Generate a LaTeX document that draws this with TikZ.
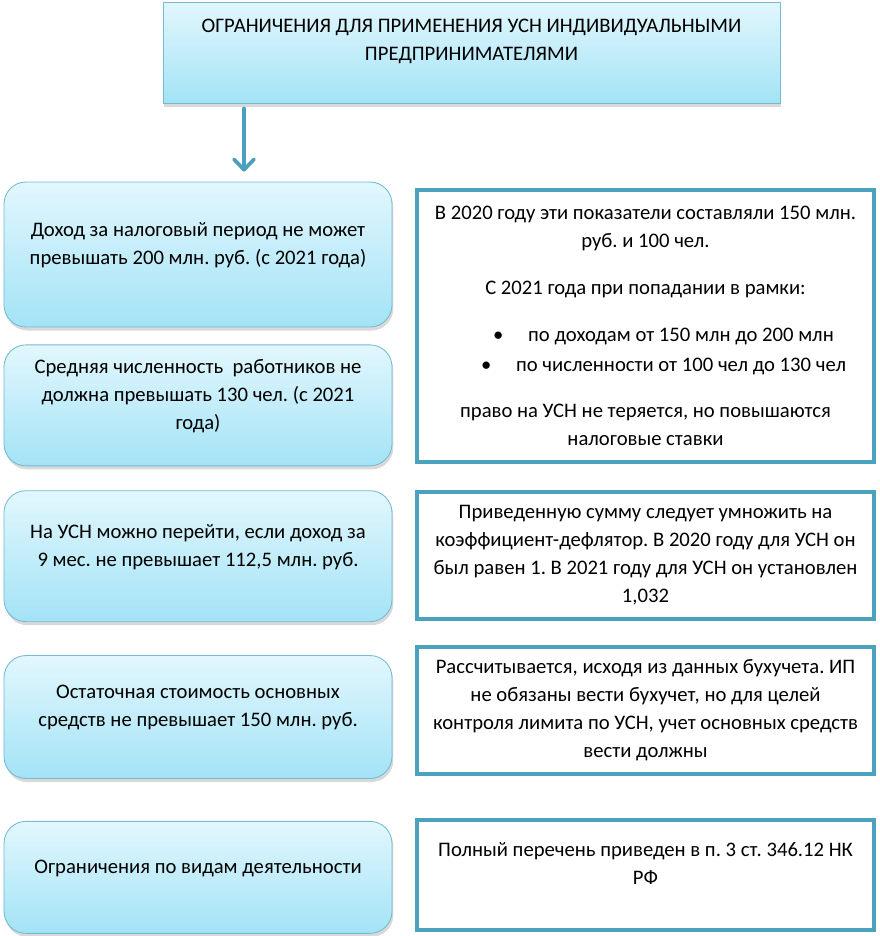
\documentclass[tikz,border=0pt]{standalone}
\usepackage{fontspec}
\setmainfont{Carlito}
\usepackage{tikz}
\usetikzlibrary{positioning}
\usetikzlibrary{shadows}
\usetikzlibrary{arrows.meta}
\frenchspacing
\definecolor{skytop}{HTML}{E2F7FD}
\definecolor{skybot}{HTML}{A3E3F6}
\definecolor{skyline}{HTML}{74BAD0}
\definecolor{teal}{HTML}{4BA2BD}
\definecolor{arrowblue}{HTML}{4A9FC1}
\tikzstyle{head} = [rectangle,draw=skyline,line width=0.6pt,top color=skytop,bottom color=skybot,align=center,minimum width=15.425cm,minimum height=2.525cm,text depth=0.63cm,drop shadow={shadow xshift=1pt,shadow yshift=-2.5pt,opacity=0.3}]
\tikzstyle{lim} = [rectangle,rounded corners=0.55cm,draw=skyline,line width=0.6pt,top color=skytop,bottom color=skybot,align=center,minimum width=9.7cm,text depth=0.55cm,drop shadow={shadow xshift=1pt,shadow yshift=-2.5pt,opacity=0.3}]
\tikzstyle{note} = [rectangle,draw=teal,line width=2.8pt,fill=white,align=center,minimum width=11.425cm]
\tikzstyle{down} = [draw=arrowblue,line width=2.6pt,line cap=round,-{Straight Barb[length=2.6mm,width=5mm,round]}]

\begin{document}
\begin{tikzpicture}[font=\fontsize{14.7}{19.9}\selectfont]
	\useasboundingbox (0,0) rectangle (22,-23.4);
	\node[head] (title) at (11.7875,-1.3125) {ОГРАНИЧЕНИЯ ДЛЯ ПРИМЕНЕНИЯ УСН ИНДИВИДУАЛЬНЫМИ\\ПРЕДПРИНИМАТЕЛЯМИ};
	
	\node[lim,minimum height=3.625cm] (income) at (4.95,-6.3625) {Доход за налоговый период не может\\превышать 200 млн. руб. (с 2021 года)};
	\node[lim,minimum height=3.025cm,below=0.425cm of income] (staff) {Средняя численность \ работников не\\должна превышать 130 чел. (с 2021\\года)};
	\node[lim,minimum height=3.275cm,below=0.6cm of staff] (switch) {На УСН можно перейти, если доход за\\9 мес. не превышает 112,5 млн. руб.};
	\node[lim,minimum height=3.075cm,below=0.825cm of switch] (assets) {Остаточная стоимость основных\\средств не превышает 150 млн. руб.};
	\node[lim,minimum height=2.8cm,below=1.05cm of assets] (kinds) {Ограничения по видам деятельности};
	
	\node[note,minimum height=6.8cm] (incomenote) at (16.1375,-8.15) {В 2020 году эти показатели составляли 150 млн.\\руб. и 100 чел.\\[0.47cm]
		С 2021 года при попадании в рамки:\\[0.47cm]
		\hspace*{0.9cm}\textbullet\hspace{0.62cm}по доходам от 150 млн до 200 млн\\[0.05cm]
		\hspace*{0.9cm}\textbullet\hspace{0.62cm}по численности от 100 чел до 130 чел\\[0.45cm]
		право на УСН не теряется, но повышаются\\налоговые ставки};
	\node[note,minimum height=3.175cm,below=0.65cm of incomenote] (switchnote) {Приведенную сумму следует умножить на\\коэффициент-дефлятор. В 2020 году для УСН он\\был равен 1. В 2021 году для УСН он установлен\\1,032};
	\node[note,minimum height=3.175cm,below=0.6cm of switchnote] (assetsnote) {Рассчитывается, исходя из данных бухучета. ИП\\не обязаны вести бухучет, но для целей\\контроля лимита по УСН, учет основных средств\\вести должны};
	\node[note,minimum height=2.75cm,text depth=0.58cm,below=1.05cm of assetsnote] (kindsnote) {Полный перечень приведен в п. 3 ст. 346.12 НК\\РФ};
	
	\coordinate (arrowx) at (6.1,0);
	\draw[down,shorten <=0.125cm,shorten >=0.25cm] (title.south -| arrowx) -- (income.north -| arrowx);
\end{tikzpicture}
\end{document}
